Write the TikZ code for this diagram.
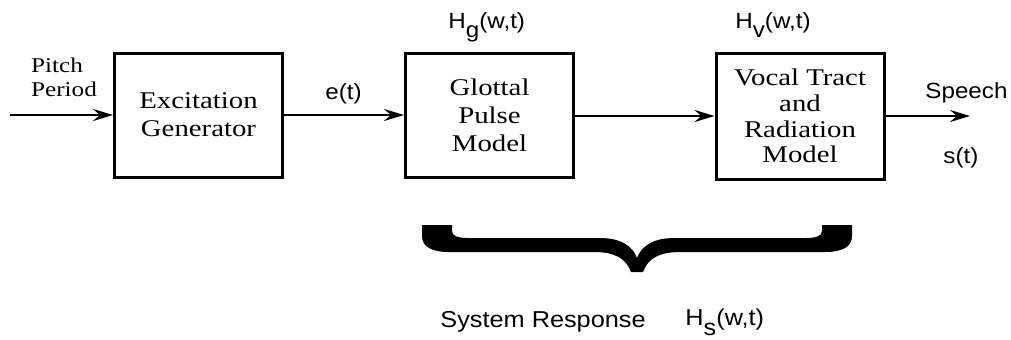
\documentclass[tikz,border=0pt]{standalone}
\usepackage{fontspec}
\setmainfont{Liberation Serif}[FakeStretch=1.2]
\setsansfont{Liberation Sans}[FakeStretch=1.1]
\usepackage{tikz}
\usetikzlibrary{arrows.meta,positioning}

\begin{document}
\begin{tikzpicture}[x=0.5pt,y=-0.5pt,
    block/.style={draw, line width=1.5pt, minimum width=84pt, minimum height=62pt,
        inner sep=0pt, align=center, font=\fontsize{12}{14}\selectfont},
    sig/.style={line width=1.4pt, -{Stealth[length=10pt,width=6pt,inset=3.5pt]}},
    lbl/.style={inner sep=0pt, font=\sffamily\fontsize{11}{13}\selectfont}]
    \useasboundingbox (0,0) rectangle (1011,339);

    % Blocks
    \node[block] (exc) at (198.5,115) {Excitation\\Generator};
    \node[block] (glot) at (489.5,115) {Glottal\\Pulse\\ Model};
    \node[block, minimum height=63pt, font=\fontsize{12}{12.8}\selectfont] (voc) at (800,116)
        {Vocal Tract\\and\\Radiation\\Model};
    \coordinate (in) at (10,115);
    \coordinate (out) at (970,116);

    % Signals
    \draw[sig] (in) -- (exc);
    \draw[sig] (exc) -- (glot);
    \draw[sig] (glot.east |- voc) -- (voc);
    \draw[sig] (voc) -- (out);

    % Labels
    \node[inner sep=0pt, align=left, font=\fontsize{10.5}{12}\selectfont] (pitch) at (64,77) {Pitch\\Period};
    \node[lbl, anchor=base west] (et) at (325,99) {e(t)};
    \node[lbl, anchor=base west] (hg) at (448,28) {H\raisebox{-0.8ex}{g}(w,t)};
    \node[lbl, anchor=base west] (hv) at (735,28) {H\raisebox{-0.8ex}{v}(w,t)};
    \node[lbl, anchor=base west] (speech) at (925,98) {Speech};
    \node[lbl, anchor=base west] (st) at (943,163) {s(t)};

    % Brace
    \fill (422,225) -- (452,225) -- (452,231) .. controls (452,236) and (458,238) .. (468,238)
        -- (600,238) .. controls (622,238) and (633,247) .. (637,258)
        .. controls (641,247) and (652,238) .. (674,238) -- (806,238)
        .. controls (816,238) and (822,236) .. (822,231) -- (822,225) -- (852,225)
        -- (852,236) .. controls (852,247) and (842,252) .. (825,252) -- (680,252)
        .. controls (660,252) and (648,258) .. (643,272) -- (631,272)
        .. controls (626,258) and (614,252) .. (594,252) -- (449,252)
        .. controls (432,252) and (422,247) .. (422,236) -- cycle;
    \node[lbl, anchor=base west, font=\sffamily\fontsize{11.5}{14}\selectfont] (resp) at (440,327) {System Response};
    \node[lbl, anchor=base west, font=\sffamily\fontsize{11.5}{14}\selectfont] (hs) at (685,325) {H\raisebox{-0.9ex}{s}(w,t)};
\end{tikzpicture}
\end{document}
